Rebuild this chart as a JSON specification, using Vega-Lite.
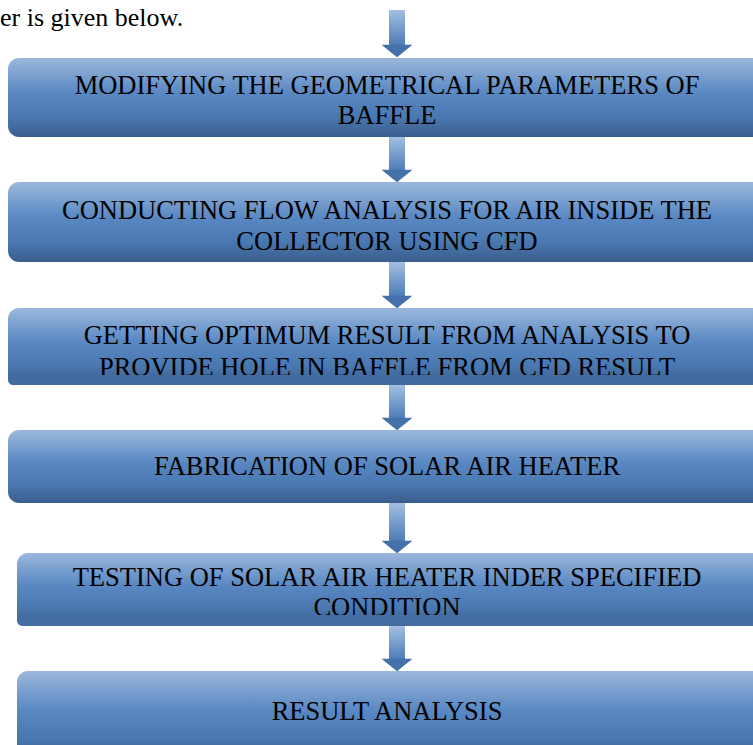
{
  "$schema": "https://vega.github.io/schema/vega-lite/v6.json",
  "width": 753,
  "height": 745,
  "autosize": "none",
  "padding": 0,
  "background": "white",
  "config": {"view": {"stroke": null}},
  "datasets": {
    "boxes": [
      {"step": 1, "left": 8, "right": 775, "top": 58, "bottom": 137},
      {"step": 2, "left": 8, "right": 775, "top": 182, "bottom": 262},
      {"step": 3, "left": 8, "right": 775, "top": 308, "bottom": 385, "clip": 375, "clipColor": "#426b9f"},
      {"step": 4, "left": 8, "right": 775, "top": 430, "bottom": 503},
      {"step": 5, "left": 17, "right": 775, "top": 553, "bottom": 626, "clip": 615, "clipColor": "#446da2"},
      {"step": 6, "left": 17, "right": 775, "top": 671, "bottom": 760}
    ],
    "arrows": [
      {"step": 1, "start": 10, "neck": 45, "tip": 57},
      {"step": 2, "start": 137, "neck": 170, "tip": 182},
      {"step": 3, "start": 262, "neck": 296, "tip": 308},
      {"step": 4, "start": 385, "neck": 418, "tip": 430},
      {"step": 5, "start": 503, "neck": 541, "tip": 553},
      {"step": 6, "start": 626, "neck": 659, "tip": 671}
    ],
    "labels": [
      {"step": 1, "text": "MODIFYING THE GEOMETRICAL PARAMETERS OF", "cy": 86},
      {"step": 1, "text": "BAFFLE", "cy": 116},
      {"step": 2, "text": "CONDUCTING FLOW ANALYSIS FOR AIR INSIDE THE", "cy": 211},
      {"step": 2, "text": "COLLECTOR USING CFD", "cy": 242},
      {"step": 3, "text": "GETTING OPTIMUM RESULT FROM ANALYSIS TO", "cy": 336},
      {"step": 3, "text": "PROVIDE HOLE IN BAFFLE FROM CFD RESULT", "cy": 368},
      {"step": 4, "text": "FABRICATION OF SOLAR AIR HEATER", "cy": 467},
      {"step": 5, "text": "TESTING OF SOLAR AIR HEATER INDER SPECIFIED", "cy": 578},
      {"step": 5, "text": "CONDITION", "cy": 608},
      {"step": 6, "text": "RESULT ANALYSIS", "cy": 712}
    ],
    "intro": [{"text": "er is given below.", "px": 0, "cy": 18}]
  },
  "layer": [
    {
      "data": {"name": "boxes"},
      "mark": {
        "type": "rect",
        "cornerRadius": 11,
        "fill": {
          "gradient": "linear", "x1": 0, "y1": 0, "x2": 0, "y2": 1,
          "stops": [
            {"offset": 0, "color": "#9bb8dc"},
            {"offset": 0.45, "color": "#5887c2"},
            {"offset": 0.75, "color": "#4a78b1"},
            {"offset": 1, "color": "#3a5d8c"}
          ]
        }
      },
      "encoding": {
        "x": {"field": "left", "type": "quantitative", "scale": {"domain": [0, 753], "nice": false, "zero": false}, "axis": null},
        "x2": {"field": "right"},
        "y": {"field": "top", "type": "quantitative", "scale": {"domain": [0, 745], "nice": false, "zero": false, "reverse": true}, "axis": null},
        "y2": {"field": "bottom"}
      }
    },
    {
      "data": {"name": "arrows"},
      "mark": {
        "type": "rect",
        "fill": {
          "gradient": "linear", "x1": 0, "y1": 0, "x2": 0, "y2": 1,
          "stops": [
            {"offset": 0, "color": "#a3bfe0"},
            {"offset": 1, "color": "#4d7cb8"}
          ]
        }
      },
      "encoding": {
        "x": {"datum": 389, "type": "quantitative"},
        "x2": {"datum": 405},
        "y": {"field": "start", "type": "quantitative"},
        "y2": {"field": "neck"}
      }
    },
    {
      "data": {"name": "arrows"},
      "transform": [{"calculate": "(datum.neck + datum.tip) / 2", "as": "hc"}],
      "mark": {
        "type": "point",
        "filled": true,
        "shape": "M-1,-0.4L1,-0.4L0,0.4Z",
        "size": 961,
        "opacity": 1,
        "color": "#4471a9"
      },
      "encoding": {
        "x": {"datum": 397, "type": "quantitative"},
        "y": {"field": "hc", "type": "quantitative"}
      }
    },
    {
      "data": {"name": "labels"},
      "mark": {"type": "text", "font": "Liberation Serif", "fontSize": 26.5, "color": "#000000", "align": "center", "baseline": "middle"},
      "encoding": {
        "x": {"datum": 387, "type": "quantitative"},
        "y": {"field": "cy", "type": "quantitative"},
        "text": {"field": "text"}
      }
    },
    {
      "data": {"name": "boxes"},
      "transform": [{"filter": "isValid(datum.clip)"}],
      "mark": {"type": "rect", "cornerRadiusBottomLeft": 10},
      "encoding": {
        "x": {"field": "left", "type": "quantitative"},
        "x2": {"field": "right"},
        "y": {"field": "clip", "type": "quantitative"},
        "y2": {"field": "bottom"},
        "fill": {
          "field": "clipColor", "type": "nominal", "scale": null
        }
      }
    },
    {
      "data": {"name": "intro"},
      "mark": {"type": "text", "font": "Liberation Serif", "fontSize": 26, "color": "#000000", "align": "left", "baseline": "middle"},
      "encoding": {
        "x": {"field": "px", "type": "quantitative"},
        "y": {"field": "cy", "type": "quantitative"},
        "text": {"field": "text"}
      }
    }
  ]
}
